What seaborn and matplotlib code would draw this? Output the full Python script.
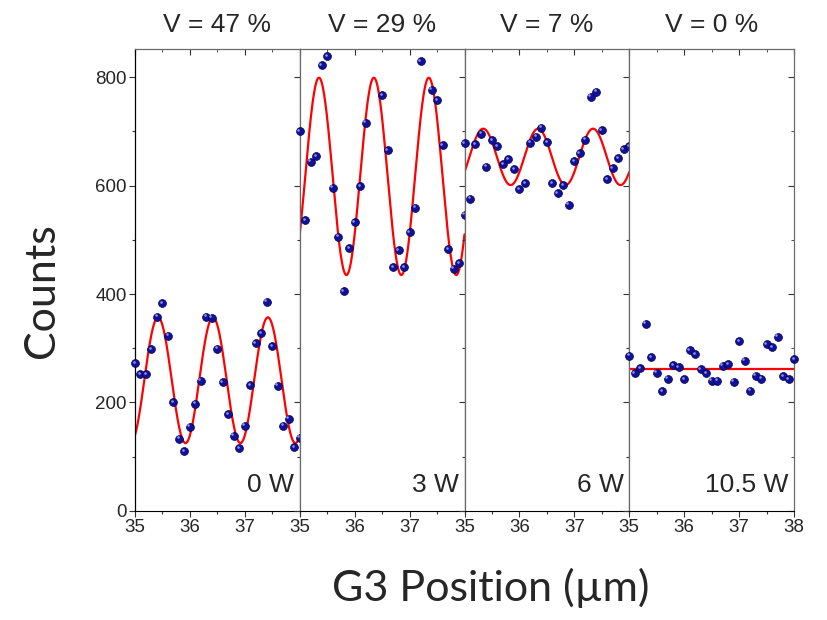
import numpy as np
import matplotlib
matplotlib.use('Agg')
import matplotlib.pyplot as plt
import matplotlib.transforms as mtransforms
from matplotlib.ticker import MultipleLocator
import seaborn as sns

# positions of the grating G3 (um), same grid for every panel
position = np.round(np.arange(35.0, 38.01, 0.1), 2)

# measured counts per panel (nan = point above the plotted range)
counts_0w = [272, 252, 252, 298, 358, 383, 323, 201, 133, 110, 155, 198, 240, 358, 356, 299,
             237, 178, 139, 116, 157, 232, 309, 328, 386, 304, 231, 157, 170, 117, 135]
counts_3w = [700, 536, 644, 654, 822, 839, 596, 506, 405, 485, 533, 599, 716, np.nan, np.nan, 767,
             665, 450, 481, 449, 514, 559, 830, np.nan, 777, 758, 674, 483, 447, 457, 546]
counts_6w = [678, 576, 676, 696, 635, 684, 673, 640, 649, 630, 593, 604, 679, 690, 707, 680,
             604, 586, 601, 565, 645, 660, 685, 764, 773, 702, 612, 632, 650, 667, 673]
counts_105w = [286, 254, 263, 345, 283, 255, 221, 244, 269, 265, 243, 296, 289, 261, 254, 240,
               240, 268, 271, 238, 313, 277, 222, 249, 244, 308, 302, 321, 248, 243, 280]

powers = ['0 W', '3 W', '6 W', '10.5 W']
visibility = ['V = 47 %', 'V = 29 %', 'V = 7 %', 'V = 0 %']

# sine fit parameters: offset, amplitude, first peak position, period
fit_offset = [241, 617, 653, 262]
fit_amp = [116, 182, 52, 0]
fit_peak = [35.42, 35.35, 35.34, 35.0]
fit_period = 1.0

all_counts = [counts_0w, counts_3w, counts_6w, counts_105w]

sns.set_style('ticks')
plt.rcParams['font.family'] = ['Liberation Sans', 'DejaVu Sans']

fig = plt.figure(figsize=(8.28, 6.2), dpi=100)
gs = fig.add_gridspec(1, 4, left=0.163, right=0.959, bottom=0.176, top=0.921, wspace=0)

xfit = np.linspace(35, 38, 400)

for i in range(4):
    ax = fig.add_subplot(gs[0, i])
    yfit = fit_offset[i] + fit_amp[i] * np.cos(2 * np.pi * (xfit - fit_peak[i]) / fit_period)
    sns.lineplot(x=xfit, y=yfit, color='red', linewidth=1.6,
                 estimator=None, sort=False, ax=ax, zorder=2)
    sns.scatterplot(x=position, y=all_counts[i], color='#10109a', edgecolor='#00004a',
                    linewidth=0.5, s=32, clip_on=False, ax=ax, zorder=3)
    # little highlight on the balls
    hl = mtransforms.offset_copy(ax.transData, fig=fig, x=-1.0, y=1.0, units='points')
    ax.scatter(position, all_counts[i], s=3.5, color='#9090e8', linewidth=0,
               transform=hl, clip_on=False, zorder=4)

    ax.set_xlim(35, 38)
    ax.set_ylim(0, 852)
    ax.set_xlabel('')
    ax.set_ylabel('')
    ax.xaxis.set_minor_locator(MultipleLocator(0.5))
    ax.yaxis.set_minor_locator(MultipleLocator(100))
    ax.yaxis.set_major_locator(MultipleLocator(200))
    if i < 3:
        ax.set_xticks([35, 36, 37])
    else:
        ax.set_xticks([35, 36, 37, 38])
    ax.tick_params(axis='both', which='major', direction='out', length=4, width=0.8,
                   labelsize=13.5, pad=2, color='#333333')
    ax.tick_params(axis='both', which='minor', direction='out', length=2.5, width=0.8,
                   color='#333333')
    if i > 0:
        ax.tick_params(axis='y', labelleft=False)

    for side in ['top', 'right', 'left']:
        ax.spines[side].set_color('#6a6a6a')
        ax.spines[side].set_linewidth(0.9)
    ax.spines['bottom'].set_color('black')
    if i == 0:
        ax.spines['left'].set_color('black')

    top = ax.secondary_xaxis('top')
    top.set_xticks(ax.get_xticks())
    top.xaxis.set_minor_locator(MultipleLocator(0.5))
    top.tick_params(which='major', direction='in', length=4, labeltop=False, color='#333333')
    top.tick_params(which='minor', direction='in', length=2.5, color='#333333')
    top.spines['top'].set_visible(False)

    if i == 3:
        right = ax.secondary_yaxis('right')
        right.yaxis.set_major_locator(MultipleLocator(200))
        right.yaxis.set_minor_locator(MultipleLocator(100))
        right.tick_params(which='major', direction='in', length=4, labelright=False, color='#333333')
        right.tick_params(which='minor', direction='in', length=2.5, color='#333333')
        right.spines['right'].set_visible(False)

    ax.set_title(visibility[i], fontsize=19, pad=12)
    ax.text(0.965, 0.04, powers[i], transform=ax.transAxes, ha='right', va='baseline',
            fontsize=19)

fig.text(0.051, 0.532, 'Counts', rotation=90, ha='center', va='center',
         fontsize=31, family=['Lato', 'DejaVu Sans'])
fig.text(0.593, 0.031, 'G3 Position (µm)', ha='center', va='baseline',
         fontsize=31, family=['Lato', 'DejaVu Sans'])

fig.savefig('out.png', dpi=100)
